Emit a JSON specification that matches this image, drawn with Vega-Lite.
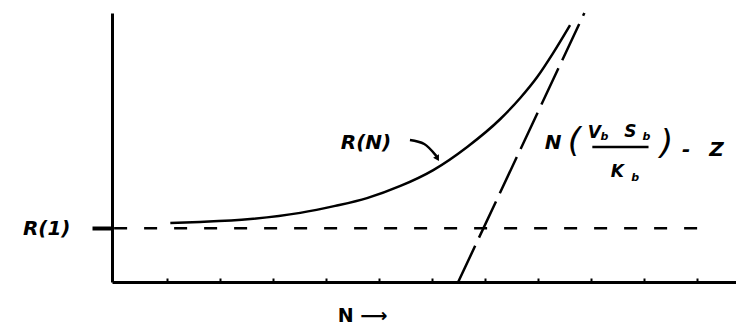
{
  "$schema": "https://vega.github.io/schema/vega-lite/v6.json",
  "width": 624,
  "height": 269,
  "autosize": {"type": "none"},
  "padding": {"left": 112, "top": 13, "right": 0, "bottom": 44},
  "background": "white",
  "config": {
    "view": {"stroke": null},
    "font": "DejaVu Sans",
    "text": {"font": "DejaVu Sans", "fontWeight": "bold", "fontStyle": "italic", "color": "black"}
  },
  "datasets": {
    "response": [
      {"N": 1.06, "R": 2.19},
      {"N": 1.62, "R": 2.23},
      {"N": 2.57, "R": 2.34},
      {"N": 3.51, "R": 2.57},
      {"N": 4.17, "R": 2.83},
      {"N": 4.77, "R": 3.12},
      {"N": 5.40, "R": 3.57},
      {"N": 6.02, "R": 4.16},
      {"N": 6.66, "R": 5.02},
      {"N": 7.28, "R": 6.05},
      {"N": 7.66, "R": 6.84},
      {"N": 7.98, "R": 7.62},
      {"N": 8.28, "R": 8.51},
      {"N": 8.60, "R": 9.55}
    ],
    "singleLevel": [
      {"N": 0, "R": 2},
      {"N": 11.06, "R": 2}
    ],
    "asymptote": [
      {"N": 6.49, "R": 0},
      {"N": 8.87, "R": 10}
    ],
    "pointer": [
      {"N": 5.58, "R": 5.28},
      {"N": 5.85, "R": 5.13},
      {"N": 6.08, "R": 4.68}
    ],
    "fractionBar": [
      {"N": 9.02, "R": 5.02},
      {"N": 10.08, "R": 5.02}
    ]
  },
  "layer": [
    {
      "data": {"name": "response"},
      "mark": {"type": "line", "color": "black", "strokeWidth": 2.5, "interpolate": "monotone"},
      "encoding": {
        "x": {
          "field": "N", "type": "quantitative",
          "scale": {"domain": [-0.04, 11.73], "nice": false, "zero": false},
          "axis": {
            "title": "N \u27f6",
            "titleFont": "DejaVu Sans", "titleFontSize": 19, "titleFontWeight": "bold",
            "titleColor": "black",
            "titleX": 250, "titleY": 33, "titleAlign": "center", "titleBaseline": "middle",
            "values": [1, 2, 3, 4, 5, 6, 7, 8, 9, 10, 11],
            "labels": false, "grid": false,
            "domainColor": "black", "domainWidth": 3,
            "tickColor": "black", "tickWidth": 2, "tickSize": -4
          }
        },
        "y": {
          "field": "R", "type": "quantitative",
          "scale": {"domain": [0, 10], "nice": false},
          "axis": {
            "title": null,
            "values": [2],
            "labelExpr": "'R(1)'",
            "labelFont": "DejaVu Sans", "labelFontSize": 20, "labelFontWeight": "bold",
            "labelFontStyle": "italic", "labelColor": "black", "labelPadding": 22,
            "grid": false,
            "domainColor": "black", "domainWidth": 3,
            "tickColor": "black", "tickWidth": 4, "tickSize": 20
          }
        }
      }
    },
    {
      "data": {"name": "singleLevel"},
      "mark": {"type": "line", "color": "black", "strokeWidth": 2.5, "strokeDash": [13, 17]},
      "encoding": {
        "x": {"field": "N", "type": "quantitative"},
        "y": {"field": "R", "type": "quantitative"}
      }
    },
    {
      "data": {"name": "asymptote"},
      "mark": {"type": "line", "color": "black", "strokeWidth": 2.5, "strokeDash": [40, 9]},
      "encoding": {
        "x": {"field": "N", "type": "quantitative"},
        "y": {"field": "R", "type": "quantitative"}
      }
    },
    {
      "data": {"name": "pointer"},
      "mark": {"type": "line", "color": "black", "strokeWidth": 2.5, "interpolate": "monotone"},
      "encoding": {
        "x": {"field": "N", "type": "quantitative"},
        "y": {"field": "R", "type": "quantitative"}
      }
    },
    {
      "data": {"values": [{"N": 6.09, "R": 4.62}]},
      "mark": {"type": "point", "shape": "triangle", "angle": 150, "filled": true, "color": "black", "size": 45, "opacity": 1},
      "encoding": {
        "x": {"field": "N", "type": "quantitative"},
        "y": {"field": "R", "type": "quantitative"}
      }
    },
    {
      "data": {"name": "fractionBar"},
      "mark": {"type": "line", "color": "black", "strokeWidth": 2.5},
      "encoding": {
        "x": {"field": "N", "type": "quantitative"},
        "y": {"field": "R", "type": "quantitative"}
      }
    },
    {
      "data": {"values": [
        {"label": "R(N)", "N": 4.75, "R": 5.17},
        {"label": "N", "N": 8.28, "R": 5.17},
        {"label": "-", "N": 10.79, "R": 4.91},
        {"label": "Z", "N": 11.36, "R": 4.91}
      ]},
      "mark": {"type": "text", "fontSize": 20, "align": "center", "baseline": "middle"},
      "encoding": {
        "x": {"field": "N", "type": "quantitative"},
        "y": {"field": "R", "type": "quantitative"},
        "text": {"field": "label"}
      }
    },
    {
      "data": {"values": [
        {"label": "(", "N": 8.68, "R": 5.2},
        {"label": ")", "N": 10.42, "R": 5.13}
      ]},
      "mark": {"type": "text", "fontSize": 34, "fontWeight": "normal", "align": "center", "baseline": "middle"},
      "encoding": {
        "x": {"field": "N", "type": "quantitative"},
        "y": {"field": "R", "type": "quantitative"},
        "text": {"field": "label"}
      }
    },
    {
      "data": {"values": [
        {"label": "V", "N": 9.06, "R": 5.54},
        {"label": "S", "N": 9.74, "R": 5.58},
        {"label": "K", "N": 9.49, "R": 4.09}
      ]},
      "mark": {"type": "text", "fontSize": 17, "align": "center", "baseline": "middle"},
      "encoding": {
        "x": {"field": "N", "type": "quantitative"},
        "y": {"field": "R", "type": "quantitative"},
        "text": {"field": "label"}
      }
    },
    {
      "data": {"values": [
        {"label": "b", "N": 9.25, "R": 5.39},
        {"label": "b", "N": 10.04, "R": 5.39},
        {"label": "b", "N": 9.83, "R": 3.87}
      ]},
      "mark": {"type": "text", "fontSize": 11, "align": "center", "baseline": "middle"},
      "encoding": {
        "x": {"field": "N", "type": "quantitative"},
        "y": {"field": "R", "type": "quantitative"},
        "text": {"field": "label"}
      }
    }
  ]
}
